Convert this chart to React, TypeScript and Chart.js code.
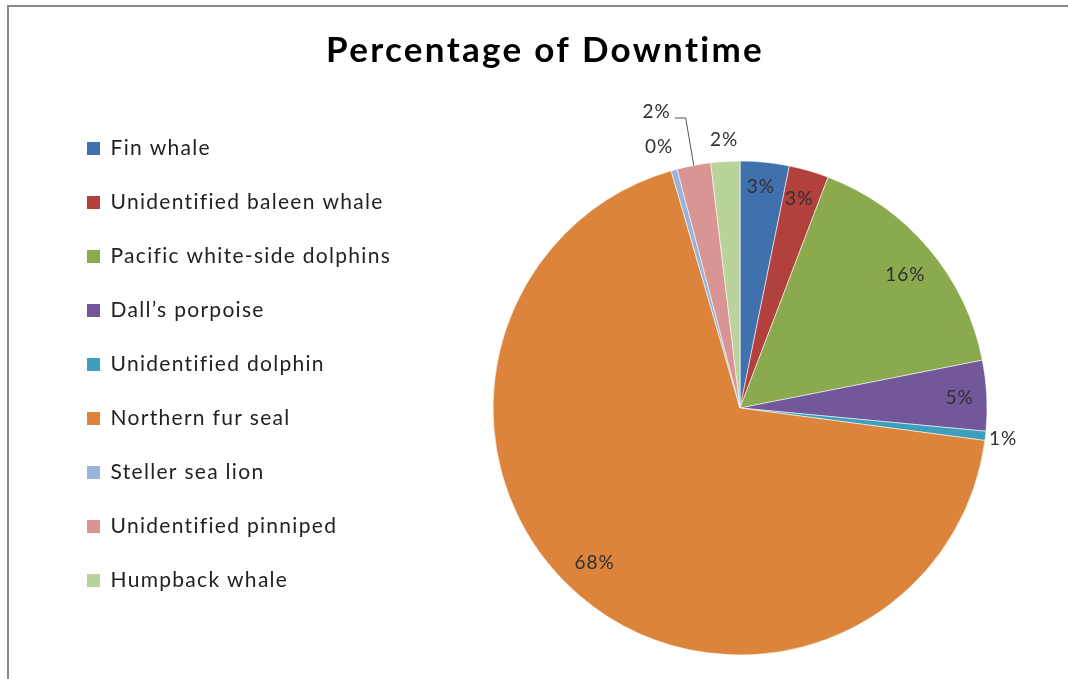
import { useEffect, useRef } from 'react';
import { Chart, registerables } from 'chart.js';

Chart.register(...registerables);

const CHART_TITLE = 'Percentage of Downtime';

const SPECIES = [
  'Fin whale',
  'Unidentified baleen whale',
  'Pacific white-side dolphins',
  'Dall\u2019s porpoise',
  'Unidentified dolphin',
  'Northern fur seal',
  'Steller sea lion',
  'Unidentified pinniped',
  'Humpback whale',
];

// Share of downtime per species (%)
const DOWNTIME_PCT = [3.2, 2.6, 16.1, 4.6, 0.6, 68.4, 0.4, 2.2, 1.9];

const SLICE_COLORS = [
  '#4070AE',
  '#B2413E',
  '#8BA94D',
  '#72579A',
  '#3D9FBB',
  '#DC843C',
  '#9AB3DC',
  '#D99593',
  '#B9D39B',
];

// Label placement: angular shift (degrees) from the slice's middle, and
// distance from the centre as a fraction of the radius.
const LABEL_SHIFT_DEG = [-0.4, -0.4, 1.2, 0.3, 0.2, 2.5, -1.7, -4.9, 0];
const LABEL_RADIUS = [0.9, 0.88, 0.86, 0.89, 1.072, 0.86, 1.108, 1.247, 1.087];
// Slices whose label is tied back with a leader line
const LEADER_INDEX = [7];

const FONT = 'Lato, "Open Sans", sans-serif';
const LEGEND_SPACING = '1.3px';

const textSpacing = {
  id: 'textSpacing',
  beforeLayout(chart: any) {
    chart.ctx.letterSpacing = LEGEND_SPACING;
  },
  beforeDraw(chart: any) {
    chart.ctx.letterSpacing = LEGEND_SPACING;
  },
};

const titleText = {
  id: 'titleText',
  afterDraw(chart: any) {
    const ctx = chart.ctx;
    ctx.save();
    ctx.letterSpacing = '2.3px';
    ctx.font = `bold 35px ${FONT}`;
    ctx.fillStyle = '#000';
    ctx.textAlign = 'center';
    ctx.textBaseline = 'alphabetic';
    ctx.fillText(CHART_TITLE, 536, 55);
    ctx.restore();
  },
};

const sliceLabels = {
  id: 'sliceLabels',
  afterDatasetsDraw(chart: any) {
    const ctx = chart.ctx;
    const meta = chart.getDatasetMeta(0);
    const values: number[] = chart.data.datasets[0].data;
    const total = values.reduce((a, b) => a + b, 0);
    ctx.save();
    ctx.letterSpacing = '1px';
    ctx.font = `19px ${FONT}`;
    ctx.fillStyle = '#303030';
    ctx.textAlign = 'center';
    ctx.textBaseline = 'middle';
    meta.data.forEach((arc: any, i: number) => {
      const { x, y, startAngle, endAngle, outerRadius } = arc.getProps(
        ['x', 'y', 'startAngle', 'endAngle', 'outerRadius'],
        true,
      );
      const mid = (startAngle + endAngle) / 2;
      const a = mid + (LABEL_SHIFT_DEG[i] * Math.PI) / 180;
      const r = outerRadius * LABEL_RADIUS[i];
      const lx = x + Math.cos(a) * r;
      const ly = y + Math.sin(a) * r;
      ctx.fillText(`${Math.round((values[i] / total) * 100)}%`, lx, ly);
      if (LEADER_INDEX.includes(i)) {
        ctx.save();
        ctx.strokeStyle = '#555';
        ctx.lineWidth = 1;
        ctx.beginPath();
        ctx.moveTo(x + Math.cos(mid) * outerRadius, y + Math.sin(mid) * outerRadius);
        ctx.lineTo(lx + 29, ly + 6.5);
        ctx.lineTo(lx + 18, ly + 6.5);
        ctx.stroke();
        ctx.restore();
      }
    });
    ctx.restore();
  },
};

export default function App() {
  const canvasRef = useRef<HTMLCanvasElement>(null);

  useEffect(() => {
    const canvas = canvasRef.current;
    if (!canvas) return;
    const chart = new Chart(canvas, {
      type: 'pie',
      data: {
        labels: SPECIES,
        datasets: [
          {
            data: DOWNTIME_PCT,
            backgroundColor: SLICE_COLORS,
            borderColor: 'rgba(255,255,255,0.55)',
            borderWidth: 1,
            radius: 247,
          } as any,
        ],
      },
      options: {
        responsive: false,
        animation: false,
        devicePixelRatio: 1,
        layout: { padding: { left: 45, top: 98, right: 20, bottom: 0 } },
        plugins: {
          title: { display: false },
          tooltip: { enabled: false },
          legend: {
            position: 'left',
            align: 'start',
            labels: {
              boxWidth: 13,
              boxHeight: 13,
              padding: 33,
              color: '#222',
              font: { family: FONT, size: 21 },
              generateLabels: (c: any) =>
                (Chart as any).overrides.pie.plugins.legend.labels
                  .generateLabels(c)
                  .map((l: any) => ({ ...l, lineWidth: 0 })),
            },
          },
        },
      } as any,
      plugins: [textSpacing, titleText, sliceLabels],
    });
    return () => chart.destroy();
  }, []);

  return (
    <div
      style={{
        position: 'fixed',
        left: 7,
        top: 5,
        width: 1059,
        height: 674,
        overflow: 'hidden',
        background: '#fff',
        borderTop: '2px solid #8a8a8a',
        borderLeft: '2px solid #8a8a8a',
      }}
    >
      <canvas
        ref={canvasRef}
        width={1090}
        height={704}
        style={{ display: 'block', width: 1090, height: 704 }}
      />
    </div>
  );
}
